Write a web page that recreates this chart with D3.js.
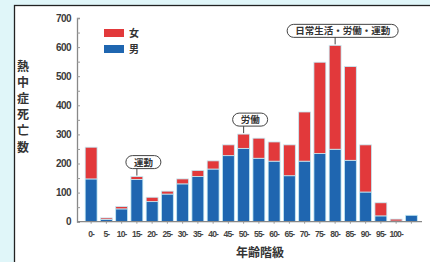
<!DOCTYPE html>
<html>
<head>
<meta charset="utf-8">
<script src="https://cdnjs.cloudflare.com/ajax/libs/d3/7.8.5/d3.min.js"></script>
<style>
body { margin: 0; background: #e0f6f9; }
svg { display: block; }
</style>
</head>
<body>
<div id="chart"></div>
<script>
var ageGroups = ["0-", "5-", "10-", "15-", "20-", "25-", "30-", "35-", "40-", "45-", "50-",
                 "55-", "60-", "65-", "70-", "75-", "80-", "85-", "90-", "95-", "100-", "不詳"];
var ageLabels = ["0-", "5-", "10-", "15-", "20-", "25-", "30-", "35-", "40-", "45-", "50-",
                 "55-", "60-", "65-", "70-", "75-", "80-", "85-", "90-", "95-", "100-", ""];
var male   = [147, 8, 44, 145, 69, 95, 130, 155, 181, 227, 252, 218, 208, 158, 208, 234, 249, 211, 102, 20, 2, 22];
var female = [109, 5, 8, 10, 15, 10, 17, 21, 28, 37, 49, 69, 66, 106, 169, 314, 357, 322, 162, 45, 7, 0];
var yTicks = [0, 100, 200, 300, 400, 500, 600, 700];
var callouts = [
    { age: "15-", text: "運動" },
    { age: "50-", text: "労働" },
    { age: "80-", text: "日常生活・労働・運動" }
];

var width = 430, height = 262;
var jp = "'Noto Sans CJK JP', sans-serif";
var num = "'Liberation Sans', Arial, sans-serif";

var svg = d3.select('#chart').append('svg')
    .attr('width', width)
    .attr('height', height);

// white panel with black frame
svg.append('rect')
    .attr('x', 14.5).attr('y', 5.5)
    .attr('width', 430).attr('height', 270)
    .attr('fill', '#fff')
    .attr('stroke', '#222')
    .attr('stroke-width', 1.3);

var x = d3.scaleBand()
    .domain(ageGroups)
    .range([83.5, 419])
    .paddingInner(0.22)
    .paddingOuter(0.11);

var y = d3.scaleLinear()
    .domain([0, 700])
    .range([221.7, 18]);

var rows = ageGroups.map(function(a, i) {
    return { age: a, male: male[i], female: female[i] };
});
var stacked = d3.stack().keys(['male', 'female'])(rows);
var colors = { male: '#1f66b0', female: '#e2393b' };

svg.append('g')
    .selectAll('g')
    .data(stacked)
    .enter().append('g')
    .attr('fill', function(d) { return colors[d.key]; })
    .selectAll('rect')
    .data(function(d) { return d; })
    .enter().append('rect')
    .attr('x', function(d) { return x(d.data.age); })
    .attr('y', function(d) { return y(d[1]); })
    .attr('width', x.bandwidth())
    .attr('height', function(d) { return y(d[0]) - y(d[1]); })
    .attr('stroke', '#c3ebf5')
    .attr('stroke-width', 0.8);

// y axis
var yAxis = svg.append('g')
    .attr('transform', 'translate(77,0)')
    .call(d3.axisRight(y).tickValues(d3.range(0, 701, 50)).tickSize(3).tickFormat(''));
yAxis.select('.domain').attr('stroke', '#888').attr('stroke-width', 1.3);
yAxis.selectAll('line').attr('stroke', '#999');

svg.append('g')
    .selectAll('text')
    .data(yTicks)
    .enter().append('text')
    .attr('x', 71)
    .attr('y', function(d) { return y(d) + 3.5; })
    .attr('text-anchor', 'end')
    .attr('font-family', num)
    .attr('font-weight', 'bold')
    .attr('font-size', 10)
    .attr('letter-spacing', -0.6)
    .attr('fill', '#3a3a3a')
    .text(function(d) { return d; });

// x axis
var xAxis = svg.append('g')
    .attr('transform', 'translate(0,' + y(0) + ')')
    .call(d3.axisBottom(x).tickSize(2).tickFormat(''));
xAxis.select('.domain').attr('d', 'M77,0H422').attr('stroke', '#888').attr('stroke-width', 1.3);
xAxis.selectAll('line').attr('stroke', '#999');

svg.append('g')
    .selectAll('text')
    .data(ageGroups)
    .enter().append('text')
    .attr('x', function(d) { return x(d) + x.bandwidth() / 2; })
    .attr('y', 237)
    .attr('text-anchor', 'middle')
    .attr('font-family', num)
    .attr('font-weight', 'bold')
    .attr('font-size', 8.5)
    .attr('letter-spacing', -0.9)
    .attr('fill', '#444')
    .text(function(d, i) { return ageLabels[i]; });

// axis titles
svg.append('text')
    .attr('x', 260).attr('y', 257)
    .attr('text-anchor', 'middle')
    .attr('font-family', jp)
    .attr('font-weight', 'bold')
    .attr('font-size', 12)
    .attr('fill', '#333')
    .text('年齢階級');

svg.append('text')
    .attr('x', 23).attr('y', 60)
    .attr('font-family', jp)
    .attr('font-weight', 'bold')
    .attr('font-size', 12)
    .attr('letter-spacing', 4.2)
    .attr('fill', '#333')
    .style('writing-mode', 'vertical-rl')
    .text('熱中症死亡数');

// legend
var legend = svg.append('g').attr('transform', 'translate(104,29)');
[['女', colors.female], ['男', colors.male]].forEach(function(l, i) {
    legend.append('rect')
        .attr('x', 0).attr('y', i * 16)
        .attr('width', 20).attr('height', 8)
        .attr('fill', l[1]);
    legend.append('text')
        .attr('x', 25).attr('y', i * 16 + 8)
        .attr('font-family', jp)
        .attr('font-weight', 'bold')
        .attr('font-size', 10)
        .attr('fill', '#333')
        .text(l[0]);
});

// callouts
callouts.forEach(function(c) {
    var i = ageGroups.indexOf(c.age);
    var cx = x(c.age) + x.bandwidth() / 2;
    var top = y(male[i] + female[i]);
    var g = svg.append('g');
    var t = g.append('text')
        .attr('font-family', jp)
        .attr('font-weight', 'bold')
        .attr('font-size', 9.5)
        .attr('fill', '#333')
        .text(c.text);
    var w = t.node().getComputedTextLength() + 16;
    var h = 13;
    var bx = cx - 11;
    if (c.text.length > 4) bx = cx - 48;
    var by = top - 8 - h;
    g.append('rect')
        .attr('x', bx).attr('y', by)
        .attr('width', w).attr('height', h)
        .attr('rx', 6.5).attr('ry', 6.5)
        .attr('fill', '#fff')
        .attr('stroke', '#444')
        .attr('stroke-width', 1);
    g.append('line')
        .attr('x1', cx).attr('x2', cx)
        .attr('y1', by + h).attr('y2', top - 1)
        .attr('stroke', '#444')
        .attr('stroke-width', 1);
    t.attr('x', bx + w / 2).attr('y', by + h - 3)
        .attr('text-anchor', 'middle')
        .raise();
});
</script>
</body>
</html>
